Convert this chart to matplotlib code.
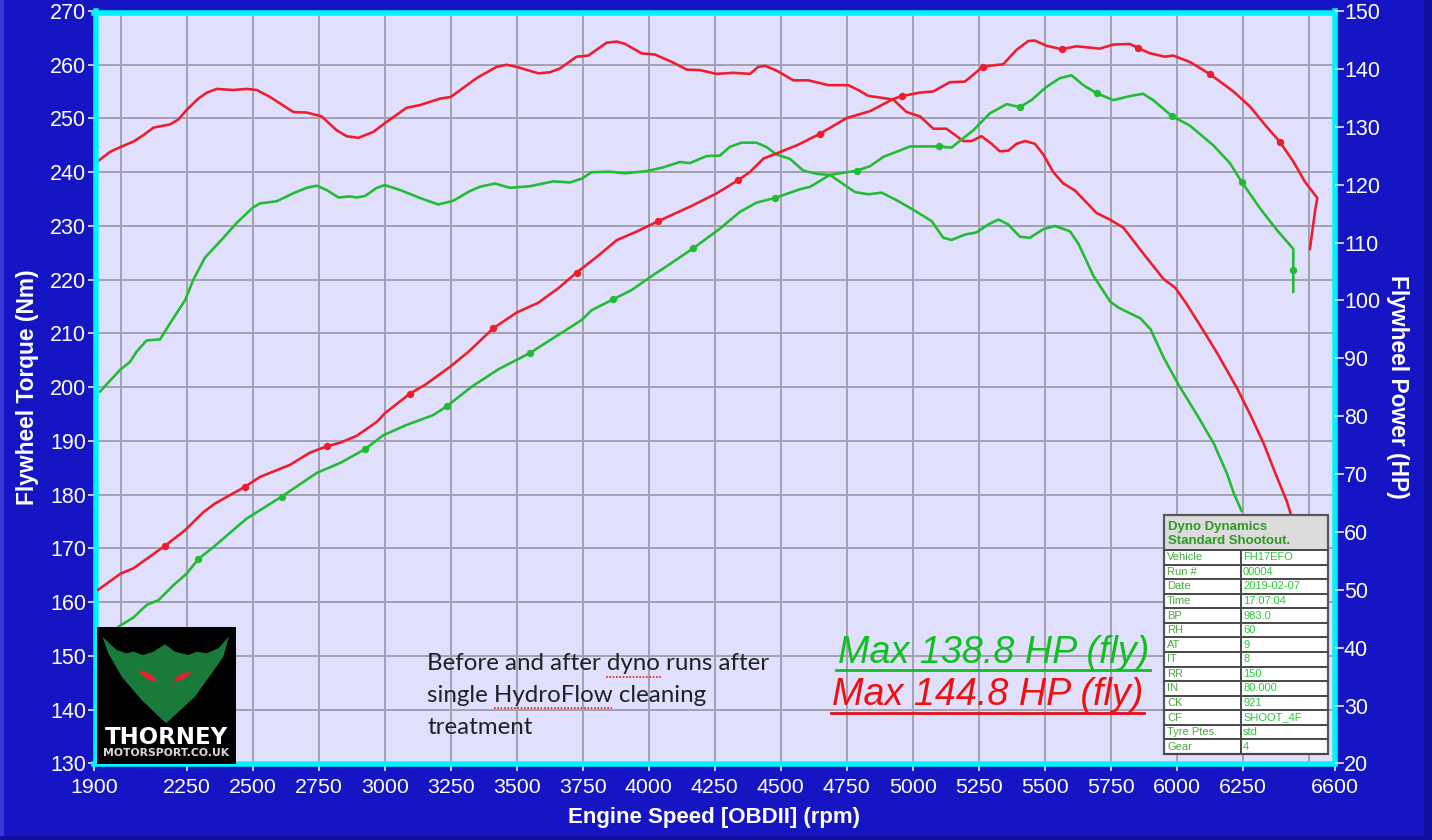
import numpy as np
import matplotlib
matplotlib.use('Agg')
import matplotlib.pyplot as plt
from matplotlib.patches import Polygon, Rectangle

# torque curves (left axis, Nm)
red_nm_rpm = [1915, 1960, 2000, 2048, 2086, 2124, 2187, 2218, 2250, 2294, 2326, 2364, 2427, 2478,
              2516, 2566, 2654, 2705, 2761, 2818, 2856, 2900, 2957, 3000, 3083, 3134, 3210, 3250,
              3348, 3424, 3462, 3500, 3582, 3626, 3664, 3727, 3771, 3841, 3879, 3910, 3974, 4024,
              4093, 4144, 4194, 4257, 4320, 4384, 4415, 4441, 4485, 4548, 4605, 4681, 4756, 4794,
              4832, 4876, 4927, 4977, 5028, 5078, 5128, 5192, 5223, 5261, 5299, 5330, 5362, 5394,
              5426, 5463, 5495, 5533, 5571, 5615, 5697, 5747, 5798, 5875, 5951, 5995, 6039, 6103,
              6153, 6229, 6279, 6330, 6374, 6418, 6435]
red_nm = [242.1, 243.8, 244.7, 245.7, 246.9, 248.3, 248.9, 249.8, 251.6, 253.7, 254.8, 255.5, 255.3, 255.5,
          255.3, 254.0, 251.2, 251.1, 250.4, 247.8, 246.7, 246.4, 247.5, 249.1, 252.0, 252.5, 253.7, 254.0,
          257.5, 259.6, 260.0, 259.6, 258.4, 258.6, 259.3, 261.5, 261.7, 264.1, 264.3, 263.9, 262.1, 261.9,
          260.4, 259.1, 259.0, 258.3, 258.5, 258.3, 259.6, 259.8, 258.9, 257.1, 257.1, 256.2, 256.2, 255.3,
          254.2, 253.9, 253.5, 251.2, 250.4, 248.1, 248.1, 245.8, 245.8, 246.7, 245.3, 243.9, 244.0, 245.3,
          245.8, 245.3, 243.3, 240.0, 237.9, 236.6, 232.4, 231.2, 229.7, 224.8, 220.1, 218.5, 215.4, 210.4,
          206.4, 199.8, 194.9, 189.5, 184.0, 178.7, 176.0]

green_nm_rpm = [1922, 1997, 2035, 2060, 2098, 2149, 2187, 2244, 2275, 2319, 2389, 2440, 2500, 2528,
                2591, 2654, 2705, 2742, 2780, 2825, 2869, 2894, 2926, 2970, 3001, 3058, 3134, 3203,
                3260, 3323, 3361, 3418, 3475, 3550, 3639, 3702, 3746, 3784, 3853, 3910, 3992, 4055,
                4118, 4156, 4219, 4270, 4307, 4351, 4408, 4446, 4484, 4535, 4586, 4636, 4687, 4737,
                4782, 4832, 4883, 4939, 5003, 5072, 5116, 5147, 5198, 5242, 5287, 5325, 5362, 5406,
                5444, 5495, 5539, 5596, 5628, 5685, 5749, 5780, 5863, 5901, 5951, 6008, 6078, 6141,
                6191, 6217, 6246]
green_nm = [199.2, 203.2, 204.7, 206.6, 208.7, 208.9, 211.9, 216.2, 220.0, 224.1, 227.8, 230.6, 233.4, 234.2,
            234.6, 236.1, 237.1, 237.5, 236.7, 235.3, 235.5, 235.3, 235.6, 237.1, 237.6, 236.7, 235.2, 234.0,
            234.7, 236.5, 237.3, 237.9, 237.1, 237.4, 238.3, 238.1, 238.8, 240.0, 240.1, 239.8, 240.2, 240.9,
            241.9, 241.7, 243.0, 243.1, 244.7, 245.5, 245.5, 244.7, 243.3, 242.5, 240.3, 239.7, 239.5, 237.8,
            236.3, 235.9, 236.2, 234.8, 233.0, 230.9, 227.8, 227.4, 228.4, 228.8, 230.3, 231.2, 230.3, 228.0,
            227.8, 229.4, 230.0, 229.0, 226.7, 220.7, 215.9, 214.8, 212.8, 210.8, 205.5, 200.4, 194.8, 189.5,
            183.9, 180.2, 177.0]

# power curves (right axis, HP)
red_hp_rpm = [1915, 2000, 2048, 2168, 2244, 2313, 2357, 2471, 2528, 2642, 2717, 2781, 2831, 2894,
              2970, 3001, 3096, 3153, 3247, 3317, 3412, 3500, 3582, 3658, 3727, 3803, 3879, 3955,
              4037, 4157, 4258, 4340, 4384, 4435, 4485, 4567, 4649, 4750, 4839, 4927, 4959, 5028,
              5078, 5141, 5198, 5267, 5343, 5394, 5438, 5463, 5507, 5564, 5621, 5709, 5760, 5823,
              5854, 5899, 5956, 5987, 6050, 6126, 6215, 6278, 6341, 6391, 6442, 6486, 6533, 6525, 6505]
red_hp = [50.0, 52.8, 53.7, 57.6, 60.3, 63.4, 64.9, 67.8, 69.5, 71.6, 73.7, 74.8, 75.4, 76.6,
          79.0, 80.5, 83.9, 85.4, 88.5, 91.1, 95.2, 97.9, 99.6, 102.1, 104.8, 107.5, 110.4, 111.9,
          113.7, 116.2, 118.5, 120.8, 122.2, 124.5, 125.4, 126.9, 128.8, 131.5, 132.7, 134.8, 135.3, 135.9,
          136.1, 137.7, 137.8, 140.4, 140.8, 143.3, 144.8, 144.9, 144.0, 143.4, 143.9, 143.5, 144.2, 144.3,
          143.6, 142.7, 142.1, 142.3, 141.2, 139.1, 136.1, 133.5, 130.0, 127.4, 124.0, 120.5, 117.7, 115.6, 108.9]
red_hp_marks = [2168, 2471, 2781, 3096, 3412, 3727, 4037, 4340, 4649, 4959, 5267, 5564, 5854, 6126, 6391]

green_hp_rpm = [1991, 2048, 2099, 2143, 2200, 2250, 2294, 2357, 2477, 2610, 2743, 2831, 2926, 2995,
                3084, 3185, 3235, 3330, 3431, 3550, 3670, 3746, 3784, 3866, 3936, 4024, 4055, 4169,
                4270, 4346, 4409, 4479, 4573, 4611, 4687, 4788, 4839, 4889, 4952, 4990, 5098, 5147,
                5230, 5292, 5356, 5406, 5450, 5507, 5558, 5602, 5646, 5697, 5760, 5823, 5873, 5911,
                5981, 6050, 6139, 6202, 6246, 6316, 6379, 6442, 6442, 6442]
green_hp = [43.6, 45.2, 47.4, 48.2, 50.8, 52.8, 55.3, 57.6, 62.3, 66.1, 70.2, 71.9, 74.3, 76.7,
            78.5, 80.2, 81.7, 85.1, 88.1, 90.9, 94.4, 96.6, 98.3, 100.2, 101.8, 104.6, 105.5, 109.0,
            112.4, 115.3, 116.9, 117.7, 119.2, 119.6, 121.7, 122.4, 123.2, 124.8, 125.9, 126.6, 126.6, 126.4,
            129.4, 132.3, 133.9, 133.4, 134.6, 136.9, 138.4, 138.9, 137.2, 135.8, 134.6, 135.3, 135.7, 134.6,
            131.9, 130.2, 126.8, 123.7, 120.5, 115.9, 112.2, 108.9, 105.3, 101.5]
green_hp_marks = [2294, 2610, 2926, 3235, 3550, 3866, 4169, 4479, 4788, 5098, 5406, 5697, 5981, 6246]

x_ticks = [1900, 2250, 2500, 2750, 3000, 3250, 3500, 3750, 4000, 4250, 4500, 4750, 5000, 5250,
           5500, 5750, 6000, 6250, 6600]
x_grid = [2000, 2250, 2500, 2750, 3000, 3250, 3500, 3750, 4000, 4250, 4500, 4750, 5000, 5250,
          5500, 5750, 6000, 6250, 6500]
nm_ticks = list(range(130, 280, 10))
hp_ticks = list(range(20, 160, 10))

info_names = ['Vehicle', 'Run #', 'Date', 'Time', 'BP', 'RH', 'AT', 'IT', 'RR', 'IN', 'CK', 'CF',
              'Tyre Ptes.', 'Gear']
info_values = ['FH17EFO', '00004', '2019-02-07', '17:07:04', '983.0', '60', '9', '8', '150',
               '80.000', '921', 'SHOOT_4F', 'std', '4']

BLUE = '#1515c4'
CYAN = '#00f4ff'
LAV = '#e0e0fc'
RED = '#f01c2c'
GREEN = '#22bc34'
SANS = 'Liberation Sans'

W, H = 1432, 840
fig = plt.figure(figsize=(W / 100, H / 100), dpi=100, facecolor=BLUE)
ax = fig.add_axes([94.3 / W, 1 - 763.4 / H, (1335 - 94.3) / W, (763.4 - 11) / H], facecolor=LAV)
ax2 = ax.twinx()

ax.set_xlim(1900, 6600)
ax.set_ylim(130, 270)
ax2.set_ylim(20, 150)


def px(n):
    return n * 0.72


# the frame sits a little inside the scale ends
for name, off in [('left', -1.2), ('right', -0.5), ('top', -1.5), ('bottom', 0.6)]:
    ax.spines[name].set_position(('outward', px(off)))
    ax.spines[name].set_color(CYAN)
    ax.spines[name].set_linewidth(px(5.5))
    ax2.spines[name].set_visible(False)
ax2.spines['right'].set_position(('outward', px(-0.5)))

# minor ticks on the same rpm as labelled ones would get dropped otherwise
ax.xaxis.remove_overlapping_locs = False
ax.set_xticks(x_grid, minor=True)
ax.set_yticks(nm_ticks)
ax.set_xticks(x_ticks)
ax.set_xticklabels([str(t) for t in x_ticks])
ax2.set_yticks(hp_ticks)
ax.grid(False)
ax.grid(True, which='minor', axis='x', color='#a2a2b2', lw=px(2))
ax.grid(True, which='major', axis='y', color='#a2a2b2', lw=px(2))
ax.tick_params(axis='x', which='minor', length=0)
ax.tick_params(axis='x', which='major', colors='white', labelsize=15.4, length=px(7), width=px(1.5),
               pad=px(7))
ax.tick_params(axis='y', colors='white', labelsize=15.5, length=px(8.5), width=px(1.5), pad=px(1))
ax2.tick_params(axis='y', colors='white', labelsize=15.5, length=px(8.5), width=px(1.5), pad=px(1))
for lab in ax.get_xticklabels() + ax.get_yticklabels() + ax2.get_yticklabels():
    lab.set_family(SANS)
ax.set_axisbelow(True)
ax2.set_axisbelow(True)

ax.plot(red_nm_rpm, red_nm, color=RED, lw=px(2.6))
ax.plot(green_nm_rpm, green_nm, color=GREEN, lw=px(2.6))


def mark_idx(rpms, marks):
    rpms = np.array(rpms)
    return [int(np.argmin(np.abs(rpms - m))) for m in marks]


ax2.plot(red_hp_rpm, red_hp, color=RED, lw=px(2.6), marker='o', ms=px(6),
         markevery=mark_idx(red_hp_rpm, red_hp_marks))
ax2.plot(green_hp_rpm, green_hp, color=GREEN, lw=px(2.6), marker='o', ms=px(6),
         markevery=mark_idx(green_hp_rpm, green_hp_marks) + [len(green_hp_rpm) - 2])

# overlay in image pixels for the things pasted on top of the chart
ov = fig.add_axes([0, 0, 1, 1], zorder=5)
ov.set_xlim(0, W)
ov.set_ylim(H, 0)
ov.axis('off')

ov.add_patch(Rectangle((0, 0), 4, H, color='#3838d8', lw=0))
ov.add_patch(Rectangle((1424, 0), 8, H, color='#10109a', lw=0))
ov.add_patch(Rectangle((0, 836), W, 4, color='#10109a', lw=0))

ov.text(28, 387, 'Flywheel Torque (Nm)', color='white', fontsize=16.4, fontweight='bold', family=SANS,
        rotation=90, ha='center', va='center')
ov.text(1397, 387, 'Flywheel Power (HP)', color='white', fontsize=16.4, fontweight='bold', family=SANS,
        rotation=270, ha='center', va='center')
ov.text(714, 817, 'Engine Speed [OBDII] (rpm)', color='white', fontsize=16, fontweight='bold', family=SANS,
        ha='center', va='center')

# logo
ov.add_patch(Rectangle((96.5, 627), 139, 137, color='black', lw=0))


def lz(points):
    return [(85 + a / 3, 610 + b / 3) for a, b in points]


ov.add_patch(Polygon(lz([(52, 80), (95, 120), (125, 130), (145, 125), (175, 135), (205, 125), (240, 103),
                         (270, 125), (310, 135), (335, 125), (365, 130), (400, 115), (432, 80), (415, 140),
                         (380, 190), (330, 260), (243, 340), (170, 270), (110, 200), (70, 130)]),
                     color='#1a7a3c', lw=0))
ov.add_patch(Polygon(lz([(155, 180), (195, 190), (218, 218), (190, 210)]), color='#e8202c', lw=0))
ov.add_patch(Polygon(lz([(322, 183), (280, 195), (265, 220), (300, 205)]), color='#e8202c', lw=0))
ov.text(166, 737, 'THORNEY', color='white', fontsize=16.5, fontweight='bold', family='DejaVu Sans',
        ha='center', va='center')
ov.text(166, 753.5, 'MOTORSPORT.CO.UK', color='#d8d8d8', fontsize=7.8, fontweight='bold', family='DejaVu Sans',
        ha='center', va='center')

# note
note = ['Before and after dyno runs after', 'single HydroFlow cleaning', 'treatment']
for line, y in zip(note, [664, 695, 728]):
    ov.text(427, y, line, color='#202028', fontsize=17.4, family='Lato', ha='left', va='center')
ov.plot([606, 662], [677, 677], color='#e02020', lw=1.2, ls=(0, (1, 1)))
ov.plot([494, 612], [708, 708], color='#e02020', lw=1.2, ls=(0, (1, 1)))

# max power labels
ov.text(838, 653, 'Max 138.8 HP (fly)', color='#10c020', fontsize=27.2, style='italic', family=SANS,
        ha='left', va='center')
ov.plot([836, 1150], [670, 670], color='#10c020', lw=2)
ov.text(832, 695, 'Max 144.8 HP (fly)', color='#f01010', fontsize=27.2, style='italic', family=SANS,
        ha='left', va='center')
ov.plot([831, 1144], [713, 713], color='#e01018', lw=2)

# run info box
left, right, top, head, bottom, mid = 1163.5, 1328, 515, 550, 754, 1241
row_h = (bottom - head) / len(info_names)
ov.add_patch(Rectangle((left, top), right - left, head - top, fc='#dcdcdc', ec='none'))
ov.add_patch(Rectangle((left, head), right - left, bottom - head, fc='white', ec='none'))
for i in range(len(info_names) + 1):
    ov.plot([left, right], [head + i * row_h] * 2, color='#484848', lw=1.4)
ov.plot([mid, mid], [head, bottom], color='#484848', lw=1.4)
ov.add_patch(Rectangle((left, top), right - left, bottom - top, fc='none', ec='#585858', lw=1.6))
ov.text(1168, 527, 'Dyno Dynamics', color='#2c9a20', fontsize=9.5, fontweight='bold', family=SANS, va='center')
ov.text(1168, 541, 'Standard Shootout.', color='#2c9a20', fontsize=9.5, fontweight='bold', family=SANS,
        va='center')
for i, (n, v) in enumerate(zip(info_names, info_values)):
    y = head + (i + 0.5) * row_h
    ov.text(1167, y, n, color='#48a840', fontsize=8, family=SANS, va='center')
    ov.text(1243, y, v, color='#28c838', fontsize=8, family=SANS, va='center')

fig.savefig('out.png', dpi=100, facecolor=BLUE)
